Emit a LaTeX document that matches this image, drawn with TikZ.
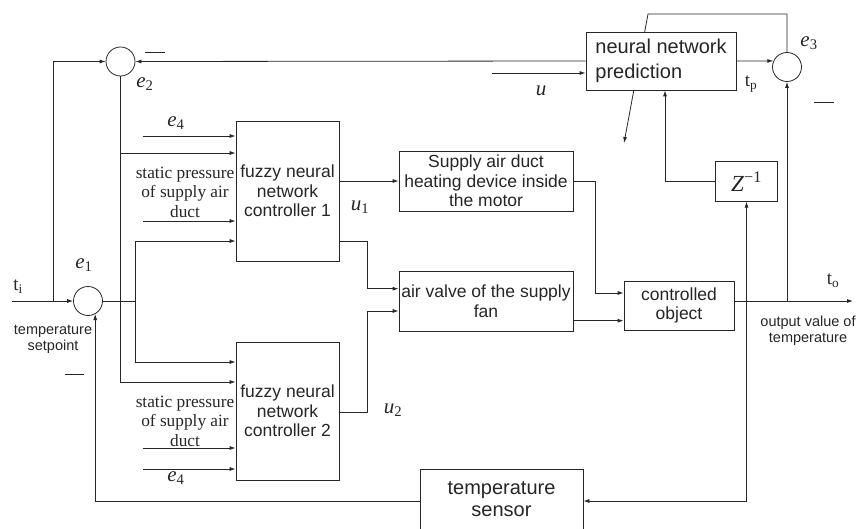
\documentclass[tikz,border=0pt]{standalone}
\usepackage{fontspec}
\setmainfont{Liberation Serif}
\setsansfont{Liberation Sans}
\usetikzlibrary{arrows.meta}
\newcommand{\sigl}[2]{\textit{#1}\textsubscript{#2}}

\begin{document}
\begin{tikzpicture}[x=1pt, y=-1pt, line width=0.8pt, color=black!85,
        >={Latex[length=6pt,width=4pt]},
        block/.style={draw, fill=white, align=center, inner sep=0pt, font=\sffamily\fontsize{17.5}{19.5}\selectfont},
        sumnode/.style={circle, draw, fill=white, minimum size=29pt, inner sep=0pt},
        sig/.style={inner sep=0pt, font=\fontsize{21}{21}\selectfont},
        note/.style={align=center, inner sep=0pt, font=\fontsize{17.3}{19.5}\selectfont},
        small/.style={align=center, inner sep=0pt, font=\sffamily\fontsize{14.5}{16}\selectfont}]
        \useasboundingbox (0,0) rectangle (858,529);

                % Define and draw the summing points
                \node[sumnode] (e2sum) at (120.5,61.5) {};
                \node[sumnode] (e1sum) at (88,301) {};
                \node[sumnode] (e3sum) at (787,67) {};

                % Adaptation line, passing under the prediction block
                \coordinate (adjtop) at (648,14);
                \coordinate (adjend) at (624,143);
                \draw[->] (e3sum.north) |- (adjtop) -- (adjend);

                % Define and draw the blocks
                \node[block, minimum width=150pt, minimum height=58pt, align=left, font=\sffamily\fontsize{20}{24.5}\selectfont] (nnpred) at (661,61) {neural network\\prediction};
                \node[block, minimum width=103pt, minimum height=140pt] (fnn1) at (287.5,191) {fuzzy neural\\network\\controller 1};
                \node[block, minimum width=103pt, minimum height=138pt] (fnn2) at (287.5,411) {fuzzy neural\\network\\controller 2};
                \node[block, minimum width=174pt, minimum height=60pt] (duct) at (486,181) {Supply air duct\\heating device inside\\the motor};
                \node[block, minimum width=174pt, minimum height=60pt] (valve) at (486,301) {air valve of the supply\\fan};
                \node[block, minimum width=110pt, minimum height=49pt] (plant) at (679,305.5) {controlled\\object};
                \node[block, minimum width=61.5pt, minimum height=39.5pt, font=\fontsize{23}{23}\selectfont] (zinv) at (746.5,181.5) {\textit{Z}\textsuperscript{−1}};
                \node[block, minimum width=163pt, minimum height=60pt, font=\sffamily\fontsize{20}{21.7}\selectfont] (sensor) at (501.5,499) {temperature\\sensor};

                % Free ends and branch points
                \coordinate (tin) at (12,301);
                \coordinate (fbsplit) at (53,301);
                \coordinate (e1split) at (135,301);
                \coordinate (uin) at (492,73);
                \coordinate (tout) at (853,301);
                \coordinate (fbturn) at (746.5,501);
                \coordinate (e4top) at (143,136);
                \coordinate (sptop) at (143,221);
                \coordinate (spbot) at (143,448);
                \coordinate (e4bot) at (143,469);
                \coordinate (in1b) at ([yshift=38pt]fnn1.west);

                % Connect them with arrows
                \draw[->] (tin) -- (e1sum.west);
                \draw[->] (fbsplit) |- (e2sum.west);
                \draw (e1sum.east) -- (e1split);
                \draw[->] (e1split) |- ([yshift=-50pt]fnn1.west);
                \draw[->] (e1split) |- ([yshift=49pt]fnn2.west);
                \draw[->] (e2sum.south) |- ([yshift=29pt]fnn2.west);
                \draw[->] (e2sum.south |- in1b) -- (in1b);
                \draw[->] (e4top) -- (e4top -| fnn1.west);
                \draw[->] (sptop) -- (sptop -| fnn1.west);
                \draw[->] (spbot) -- (spbot -| fnn2.west);
                \draw[->] (e4bot) -- (e4bot -| fnn2.west);
                \draw[->] (fnn1.east |- duct.west) -- (duct.west);
                \draw[->] ([yshift=-50pt]fnn1.east) -- ++(28,0) |- ([yshift=12.3pt]valve.west);
                \draw[->] ([yshift=-1.7pt]fnn2.east) -- ++(28,0) |- ([yshift=-10pt]valve.west);
                \draw[->] (duct.east) -- ++(22,0) |- ([yshift=12.5pt]plant.west);
                \draw[->] ([yshift=-19.7pt]valve.east) -- ([yshift=-15.2pt]plant.west);
                \draw[->] (plant.east |- tout) -- (tout);
                \draw[->] (e3sum.south |- tout) -- (e3sum.south);
                \draw[->] (zinv.south |- tout) -- (zinv.south);
                \draw[->] (zinv.south |- tout) -- (fbturn) -- (fbturn -| sensor.east);
                \draw[->] (sensor.west |- fbturn) -| (e1sum.299);
                \draw[->] (zinv.west) -| ([xshift=4pt]nnpred.south);
                \draw[->] (nnpred.west) -- (e2sum.east);
                \draw[->] (uin) -- (uin -| nnpred.west);
                \draw[->] (nnpred.east) -- (e3sum.156);

                % Minus signs
                \draw (145,52) -- (165,52);
                \draw (65,374) -- (84,374);
                \draw (814,102) -- (834,102);

                % Signal labels
                \node[sig] (lble2) at (145,84) {\sigl{e}{2}};
                \node[sig] (lble1) at (84,265) {\sigl{e}{1}};
                \node[sig] (lble3) at (809,43) {\sigl{e}{3}};
                \node[sig] (lble4a) at (176,123) {\sigl{e}{4}};
                \node[sig] (lble4b) at (176,478) {\sigl{e}{4}};
                \node[sig] (lblu) at (541,91) {\textit{u}};
                \node[sig] (lblu1) at (360,207) {\sigl{u}{1}};
                \node[sig] (lblu2) at (393,410) {\sigl{u}{2}};
                \node[sig, font=\fontsize{19}{19}\selectfont] (lblti) at (18,287) {t\textsubscript{i}};
                \node[sig, font=\fontsize{19}{19}\selectfont] (lbltp) at (751,84) {t\textsubscript{p}};
                \node[sig, font=\fontsize{19}{19}\selectfont] (lblto) at (833,281) {t\textsubscript{o}};
                \node[note] (sp1) at (185,192) {static pressure\\of supply air\\duct};
                \node[note] (sp2) at (185,421) {static pressure\\of supply air\\duct};
                \node[small] (setpt) at (53,339) {temperature\\setpoint};
                \node[small] (outval) at (808,331) {output value of\\temperature};
            \end{tikzpicture}
\end{document}
